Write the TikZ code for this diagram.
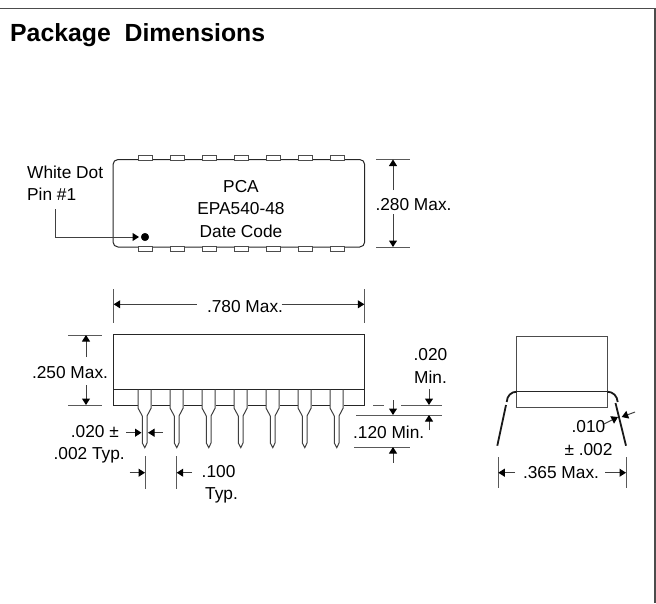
\documentclass[tikz,border=0pt]{standalone}
\usepackage{fontspec}
\setmainfont{Liberation Sans}
\usetikzlibrary{arrows.meta}
\tikzset{
    dimline/.style={line width=1pt, black!75, -{Triangle[length=6.5pt,width=8pt,black]}},
    extline/.style={line width=1pt, black!65},
    outline/.style={line width=1pt, black!85},
    lead/.style={line width=1.8pt, black!90},
    lbl/.style={inner sep=0pt, align=center, font=\fontsize{17.3}{22.3}\selectfont}
}

\begin{document}
\begin{tikzpicture}[x=1pt,y=-1pt]
        \useasboundingbox (0,0) rectangle (656,603);
        
        % frame
        \coordinate (FrameTL) at (0,8.5);
        \coordinate (FrameTR) at (655,8.5);
        \coordinate (FrameBR) at (655,603);
        \draw[line width=1.3pt, black!70] (FrameTL) -- (FrameTR) -- (FrameBR);
        \node[inner sep=0pt, anchor=base west, font=\fontsize{24.8}{28}\selectfont\bfseries] (Title) at (10,41.5) {Package\ \ Dimensions};
        
        % top view
        \draw[outline, rounded corners=5pt] (113,159.5) rectangle (364.7,247);
        \foreach \x in {138,170,202,234,266,298,330} {
            \draw[line width=1pt, black!70, fill=white] (\x,155) rectangle ++(14,5);
            \draw[line width=1pt, black!70, fill=white] (\x,246.5) rectangle ++(14,5);
        }
        \node[lbl] (Marking) at (241,209) {PCA\\EPA540-48\\Date Code};
        \node[lbl, align=left, anchor=west] (Dot) at (27,183) {White Dot\\Pin \#1};
        \filldraw[black] (145,237) circle (3.8pt);
        \coordinate (Da) at (55.5,209);
        \coordinate (Db) at (55.5,237);
        \coordinate (Dc) at (139,237);
        \draw[dimline] (Da) -- (Db) -- (Dc);
        
        % .280
        \coordinate (Ca) at (376,159.5);
        \coordinate (Cb) at (410,159.5);
        \coordinate (Cc) at (376,247);
        \coordinate (Cd) at (410,247);
        \draw[extline] (Ca) -- (Cb);
        \draw[extline] (Cc) -- (Cd);
        \node[lbl, anchor=base] (Height) at (413.5,210) {.280 Max.};
        \draw[dimline] (393,190) -- (393,159.5);
        \draw[dimline] (393,214) -- (393,247);
        
        % side view
        \draw[outline] (113,405) -- (113,334.5) -- (364.7,334.5) -- (364.7,405);
        \draw[outline] (113,389.5) -- (364.7,389.5);
        \draw[outline] (113,405) -- (138,405);
        \foreach \x in {170,202,234,266,298,330} {
            \draw[outline] (\x-18,405) -- (\x,405);
        }
        \draw[outline] (344,405) -- (364.7,405);
        \foreach \x in {138,170,202,234,266,298,330} {
            \draw[line width=1pt, black!75] (\x,389.5) -- (\x,408) -- (\x+4.3,416) -- (\x+4.3,443) -- (\x+6.8,447.7)
                -- (\x+9,443) -- (\x+9,416) -- (\x+13.2,408) -- (\x+13.2,389.5);
        }
        
        % .780
        \draw[extline] (113.7,289) -- (113.7,322.7);
        \draw[extline] (364.3,289) -- (364.3,322.7);
        \node[lbl, anchor=base] (Length) at (245,312) {.780 Max.};
        \draw[dimline] (196.7,304.3) -- (113.7,304.3);
        \draw[dimline] (281.7,304.3) -- (364.3,304.3);
        
        % .250
        \draw[extline] (68,335) -- (101.7,335);
        \draw[extline] (68,405) -- (101.7,405);
        \node[lbl, anchor=base] (Body) at (70,378.7) {.250 Max.};
        \draw[dimline] (86,357) -- (86,335);
        \draw[dimline] (86,385) -- (86,405);
        
        % .020 pin
        \node[lbl, align=right, anchor=east] (Pin) at (125,444.5) {.020 ±\hspace*{6pt}\\.002 Typ.};
        \draw[dimline] (126,432.7) -- (141.5,432.7);
        \draw[dimline] (162.7,432.7) -- (148,432.7);
        
        % .100
        \draw[extline] (145,456) -- (145,489);
        \draw[extline] (176.7,456) -- (176.7,489);
        \node[lbl, anchor=west] (Pitch) at (199,484) {.100\\\hspace*{6pt}Typ.};
        \draw[dimline] (129.5,472.7) -- (145,472.7);
        \draw[dimline] (192,472.7) -- (176.7,472.7);
        
        % .020 seat, .120
        \draw[extline] (373,405) -- (384,405);
        \draw[extline] (401,405) -- (442,405);
        \draw[extline] (356,415) -- (442,415);
        \draw[extline] (354,447) -- (410,447);
        \node[lbl] (Seat) at (430.5,366) {.020\\Min.};
        \draw[dimline] (429,389) -- (429,405);
        \draw[dimline] (429,430) -- (429,415);
        \draw[dimline] (393,400) -- (393,415);
        \draw[dimline] (393,462.7) -- (393,447);
        \node[lbl, anchor=base] (Lead) at (388.7,438) {.120 Min.};
        
        % end view
        \draw[line width=1pt, black!70] (516.7,336.7) rectangle (607.3,407.7);
        \draw[line width=1pt, black!85] (516.7,391.7) -- (607.3,391.7);
        \draw[lead] (516.7,391.7) .. controls (511,391.7) and (507,396) .. (506.7,402);
        \draw[lead] (607.3,391.7) .. controls (613,391.7) and (617.3,396) .. (617.7,402);
        \draw[lead] (506,405) -- (497.3,445.7);
        \draw[lead] (615.5,403) -- (626,445.7);
        
        % .365
        \draw[extline] (498.3,457) -- (498.3,488);
        \draw[extline] (626,457) -- (626,488);
        \node[lbl, anchor=base] (Width) at (561,478.3) {.365 Max.};
        \draw[dimline] (515,472.7) -- (498.3,472.7);
        \draw[dimline] (605,472.7) -- (626,472.7);
        
        % .010
        \node[lbl] (Thick) at (588.5,438) {.010\\± .002};
        \draw[dimline] (604,424) -- (618,417);
        \draw[dimline] (635,412) -- (621.7,417);
        
    \end{tikzpicture}
\end{document}
